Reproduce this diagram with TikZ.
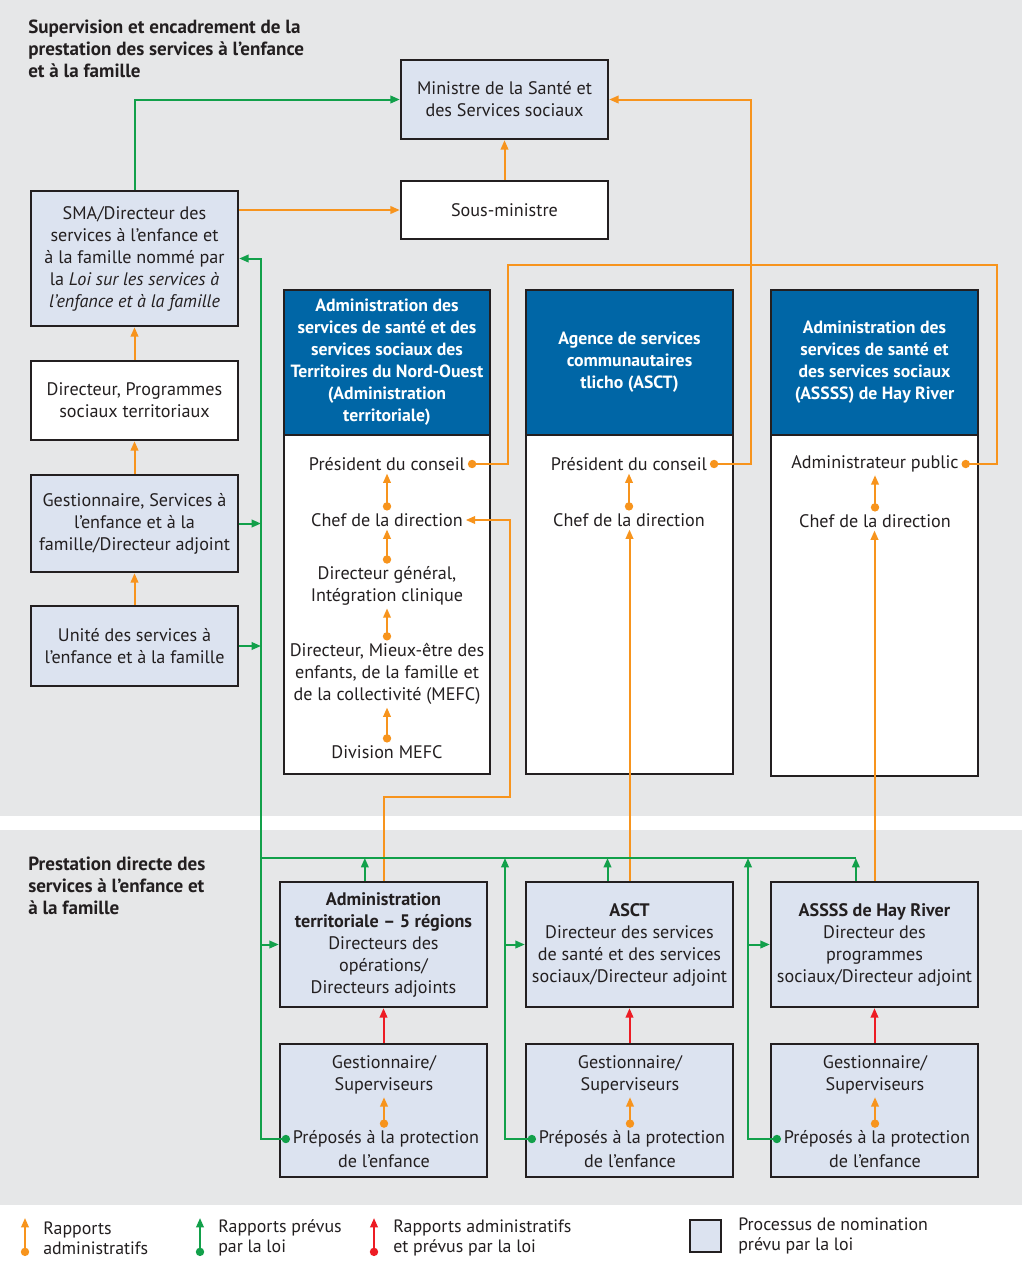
\documentclass[tikz,border=0pt]{standalone}
\usepackage{fontspec}
\setmainfont{PT Sans}
\usetikzlibrary{arrows.meta}
\definecolor{bggray}{HTML}{E6E7E8}
\definecolor{lblue}{HTML}{DCE3F0}
\definecolor{dblue}{HTML}{0066A6}
\definecolor{orng}{HTML}{F7941D}
\definecolor{grn}{HTML}{12A04A}
\definecolor{rd}{HTML}{ED1C24}
\definecolor{ink}{HTML}{231F20}
\newcommand\bodyfont{\fontsize{13.6}{16.5}\selectfont}
\newcommand\hdrfont{\fontsize{13.3}{16.5}\selectfont\bfseries}
\newcommand\titfont{\fontsize{14.3}{16.6}\selectfont\bfseries}
\newcommand\legfont{\fontsize{13.4}{15}\selectfont}
\tikzset{
  tipT/.tip={Triangle[length=7pt,width=5.6pt]},
  tipC/.tip={Circle[length=6.2pt]},
}
\begin{document}
\begin{tikzpicture}[x=0.75pt,y=-0.75pt,
  bx/.style 2 args={minimum width=#1*0.75pt, minimum height=#2*0.75pt},
  box/.style={draw=ink, line width=1.8pt, fill=lblue, inner sep=0pt, align=center, font=\bodyfont, text=ink},
  wbox/.style={box, fill=white},
  hbox/.style={box, fill=dblue, text=white, font=\hdrfont},
  txt/.style={font=\bodyfont, text=ink, align=center, inner sep=2pt},
  head/.style={font=\titfont, text=ink, align=left, anchor=west, inner sep=0pt},
  legt/.style={font=\legfont, text=ink, align=left, anchor=west, inner sep=0pt},
  ol/.style={draw=orng, line width=1.5pt},
  gl/.style={draw=grn, line width=1.5pt},
  rl/.style={draw=rd, line width=1.5pt},
]
\useasboundingbox (0,0) rectangle (1024,1279);
\fill[white] (0,0) rectangle (1024,1279);
\fill[bggray] (0,0) rectangle (1022,816);
\fill[bggray] (0,830) rectangle (1022,1205);

% headings
\node[head] (hdtop) at (28,48.5) {Supervision et encadrement de la\\prestation des services à l’enfance\\et à la famille};
\node[head] (hdbot) at (28,886) {Prestation directe des\\services à l’enfance et\\à la famille};

% top boxes
\node[box, bx={207}{79}] (min) at (504.5,99.5) {Ministre de la Santé et\\des Services sociaux};
\node[wbox, bx={207}{58}] (sous) at (504.5,210) {Sous-ministre};
\node[box, bx={207}{135}] (sma) at (134.5,258.5) {SMA/Directeur des\\services à l’enfance et\\à la famille nommé par\\la \textit{Loi sur les services à}\\\textit{l’enfance et à la famille}};
\node[wbox, bx={207}{79}] (dpst) at (134.5,400.5) {Directeur, Programmes\\sociaux territoriaux};
\node[box, bx={207}{97}] (gsef) at (134.5,523.5) {Gestionnaire, Services à\\l’enfance et à la\\famille/Directeur adjoint};
\node[box, bx={207}{80}] (usef) at (134.5,646) {Unité des services à\\l’enfance et à la famille};

% columns
\node[wbox, bx={206}{484}] (c1) at (387,532) {};
\node[hbox, bx={206}{145}] (c1h) at (387,362.5) {Administration des\\services de santé et des\\services sociaux des\\Territoires du Nord-Ouest\\(Administration\\territoriale)};
\node[wbox, bx={207}{484}] (c2) at (629.5,532) {};
\node[hbox, bx={207}{145}] (c2h) at (629.5,362.5) {Agence de services\\communautaires\\tlicho (ASCT)};
\node[wbox, bx={207}{486}] (c3) at (874.5,533) {};
\node[hbox, bx={207}{145}] (c3h) at (874.5,362.5) {Administration des\\services de santé et\\des services sociaux\\(ASSSS) de Hay River};

\node[txt] (p1) at (387,464) {Président du conseil};
\node[txt] (ch1) at (387,520) {Chef de la direction};
\node[txt] (dg1) at (387,586) {Directeur général,\\Intégration clinique};
\node[txt] (dm1) at (387,674) {Directeur, Mieux-être des\\enfants, de la famille et\\de la collectivité (MEFC)};
\node[txt] (dv1) at (387,752) {Division MEFC};

\node[txt] (p2) at (629,464) {Président du conseil};
\node[txt] (ch2) at (629,520) {Chef de la direction};
\node[txt] (ap3) at (875,464) {Administrateur public};
\node[txt] (ch3) at (875,521) {Chef de la direction};

% bottom boxes
\node[box, bx={207}{125}] (h1) at (383.5,944.5) {\textbf{Administration}\\\textbf{territoriale – 5 régions}\\Directeurs des\\opérations/\\Directeurs adjoints};
\node[box, bx={207}{125}] (h2) at (629.5,944.5) {\textbf{ASCT}\\Directeur des services\\de santé et des services\\sociaux/Directeur adjoint};
\node[box, bx={207}{125}] (h3) at (874.5,944.5) {\textbf{ASSSS de Hay River}\\Directeur des\\programmes\\sociaux/Directeur adjoint};
\node[box, bx={207}{133}] (g1) at (383.5,1110.5) {};
\node[box, bx={207}{133}] (g2) at (629.5,1110.5) {};
\node[box, bx={207}{133}] (g3) at (874.5,1110.5) {};
\foreach \i/\x in {1/384,2/630,3/875}{
  \node[txt] (sv\i) at (\x,1075) {Gestionnaire/\\Superviseurs};
  \node[txt] (pa\i) at (\x+2,1139) {Préposés à la protection};
  \node[txt] (pb\i) at (\x,1161) {de l’enfance};
}

% small orange arrows inside boxes
\draw[ol, tipC-tipT] (ch1.north) -- (ch1.north |- p1.south);
\draw[ol, tipC-tipT] (dg1.north) -- (dg1.north |- ch1.south);
\draw[ol, tipC-tipT] (dm1.north) -- (dm1.north |- dg1.south);
\draw[ol, tipC-tipT] (dv1.north) -- (dv1.north |- dm1.south);
\draw[ol, tipC-tipT] (ch2.north) -- (ch2.north |- p2.south);
\draw[ol, tipC-tipT] (ch3.north) -- (ch3.north |- ap3.south);
\foreach \i in {1,2,3}{
  \draw[ol, tipC-tipT] (sv\i.south |- pa\i.north) -- (sv\i.south);
}

% orange connectors
\draw[ol,-tipT] (sma.east |- sous.west) -- (sous.west);
\draw[ol,-tipT] (sous.north) -- (min.south);
\draw[ol,-tipT] (dpst.north) -- (sma.south);
\draw[ol,-tipT] (gsef.north) -- (dpst.south);
\draw[ol,-tipT] (usef.north) -- (gsef.south);
\coordinate (o1) at (508,265);
\coordinate (o2) at (997,265);
\coordinate (o3) at (751,0);
\coordinate (o4) at (510,797);
\draw[ol, tipC-tipC] (p1.east) -| (o1) -| (o2 |- ap3.east) -- (ap3.east);
\draw[ol, tipC-tipT] (p2.east) -| (min.east -| o3) -- (min.east);
\draw[ol,-tipT] (h1.north) |- (o4) |- (ch1.east);
\draw[ol,-tipT] (h2.north) -- (h2.north |- ch2.south);
\draw[ol,-tipT] (h3.north) -- (h3.north |- ch3.south);

% red connectors
\draw[rl,-tipT] (g1.north) -- (h1.south);
\draw[rl,-tipT] (g2.north) -- (h2.south);
\draw[rl,-tipT] (g3.north) -- (h3.south);

% green connectors
\coordinate (busL) at (261,858);
\coordinate (bus2) at (505,858);
\coordinate (bus3) at (748,858);
\path ([xshift=-14pt]h1.north) coordinate (gu1);
\path ([xshift=-16.5pt]h2.north) coordinate (gu2);
\path ([xshift=-14pt]h3.north) coordinate (gu3);
\draw[gl,-tipT] (sma.north) |- (min.west);
\draw[gl, tipC-tipT] (pa1.west) -| (sma.east -| busL) -- (sma.east);
\draw[gl] (busL) -- (gu3 |- busL);
\draw[gl,-tipT] (gu1) -- (gu1 |- busL);
\draw[gl,-tipT] (gu2) -- (gu2 |- busL);
\draw[gl,-tipT] (gu3) -- (gu3 |- busL);
\draw[gl,-tipT] (gsef.east) -- (gsef.east -| busL);
\draw[gl,-tipT] (usef.east) -- (usef.east -| busL);
\draw[gl,-tipT] (busL |- h1.west) -- (h1.west);
\draw[gl, tipC-tipT] (pa2.west) -| (bus2);
\draw[gl,-tipT] (bus2 |- h2.west) -- (h2.west);
\draw[gl, tipC-tipT] (pa3.west) -| (bus3);
\draw[gl,-tipT] (bus3 |- h3.west) -- (h3.west);

% legend
\coordinate (lo1) at (25,1256); \coordinate (lo2) at (25,1218);
\coordinate (lg1) at (200,1256); \coordinate (lg2) at (200,1218);
\coordinate (lr1) at (374,1256); \coordinate (lr2) at (374,1218);
\draw[ol, tipC-tipT] (lo1) -- (lo2);
\draw[gl, tipC-tipT] (lg1) -- (lg2);
\draw[rl, tipC-tipT] (lr1) -- (lr2);
\node[legt] (lt1) at (43,1238) {Rapports\\administratifs};
\node[legt] (lt2) at (218,1238) {Rapports prévus\\par la loi};
\node[legt] (lt3) at (393,1238) {Rapports administratifs\\et prévus par la loi};
\node[box, bx={31}{32}] (lsq) at (705.5,1236) {};
\node[legt] (lt4) at (738,1236) {Processus de nomination\\prévu par la loi};
\end{tikzpicture}
\end{document}
